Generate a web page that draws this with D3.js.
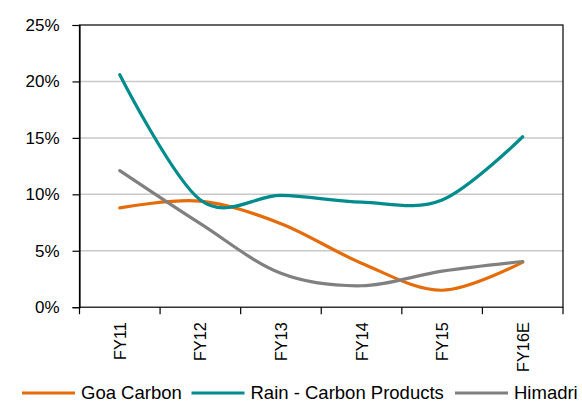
<!DOCTYPE html>
<html><head><meta charset="utf-8">
<script src="https://cdn.jsdelivr.net/npm/d3@7"></script>
<style>html,body{margin:0;padding:0;background:#fff;}svg{display:block;}</style>
</head><body>
<script>
const categories = ["FY11","FY12","FY13","FY14","FY15","FY16E"];
const goaCarbon = [8.8, 9.4, 7.4, 3.9, 1.5, 4.0];
const rainCarbon = [20.6, 9.5, 9.9, 9.3, 9.5, 15.1];
const himadri = [12.1, 7.4, 3.0, 1.9, 3.2, 4.05];
const yTicks = [0, 5, 10, 15, 20, 25];
const seriesNames = ["Goa Carbon", "Rain - Carbon Products", "Himadri"];
const seriesColors = ["#E46C0A", "#008C8C", "#808080"];

const W = 582, H = 402;
const L = 79.5, R = 563, T = 25, B = 307.2;
const font = "Liberation Sans, Arial, sans-serif";

const svg = d3.select("body").append("svg").attr("width", W).attr("height", H);
const x = d3.scalePoint().domain(categories).range([L, R]).padding(0.5);
const xb = d3.scaleBand().domain(categories).range([L, R]);
const y = d3.scaleLinear().domain([0, 25]).range([B, T]);

// gridlines
svg.append("g").selectAll("line").data(yTicks.filter(d => d > 0 && d < 25)).join("line")
  .attr("x1", L).attr("x2", R).attr("y1", d => y(d)).attr("y2", d => y(d))
  .attr("stroke", "#c9c9c9").attr("stroke-width", 1.5);

// frame
svg.append("rect").attr("x", L).attr("y", T).attr("width", R - L).attr("height", B - T)
  .attr("fill", "none").attr("stroke", "#000").attr("stroke-width", 1.2);

// y axis
const yAxis = d3.axisLeft(y).tickValues(yTicks).tickFormat(d => d + "%").tickSize(7).tickPadding(13);
const gy = svg.append("g").attr("transform", `translate(${L},0)`).call(yAxis);
gy.select(".domain").attr("stroke", "#000").attr("stroke-width", 1.2);
gy.selectAll(".tick line").attr("stroke", "#000").attr("stroke-width", 1.2);
gy.selectAll("text").attr("font-family", font).attr("font-size", 17).attr("fill", "#000");

// x axis (ticks at band boundaries)
svg.append("g").selectAll("line").data(categories.concat(["end"])).join("line")
  .attr("x1", (d, i) => i < categories.length ? xb(d) : R)
  .attr("x2", (d, i) => i < categories.length ? xb(d) : R)
  .attr("y1", B).attr("y2", B + 7).attr("stroke", "#000").attr("stroke-width", 1.2);
svg.append("g").selectAll("text").data(categories).join("text")
  .attr("transform", d => `translate(${x(d) + 6},${B + 15}) rotate(-90)`)
  .attr("text-anchor", "end")
  .attr("font-family", font).attr("font-size", 16.3).attr("fill", "#000")
  .text(d => d);

// lines
const allSeries = [goaCarbon, rainCarbon, himadri];
const line = d3.line().x((d, i) => x(categories[i])).y(d => y(d)).curve(d3.curveCardinal.tension(0));
svg.append("g").selectAll("path").data(allSeries).join("path")
  .attr("d", d => line(d)).attr("fill", "none")
  .attr("stroke", (d, i) => seriesColors[i]).attr("stroke-width", 3.2)
  .attr("stroke-linecap", "round").attr("stroke-linejoin", "round");

// legend
const legendX = [22, 191.5, 455];
const lg = svg.append("g").selectAll("g").data(seriesNames).join("g")
  .attr("transform", (d, i) => `translate(${legendX[i]},393)`);
lg.append("line").attr("x1", 0).attr("x2", 53).attr("y1", 0).attr("y2", 0)
  .attr("stroke", (d, i) => seriesColors[i]).attr("stroke-width", 3.2);
lg.append("text").attr("x", 59).attr("y", 5.5)
  .attr("font-family", font).attr("font-size", 18.5).attr("fill", "#000")
  .text(d => d);
</script>
</body></html>
